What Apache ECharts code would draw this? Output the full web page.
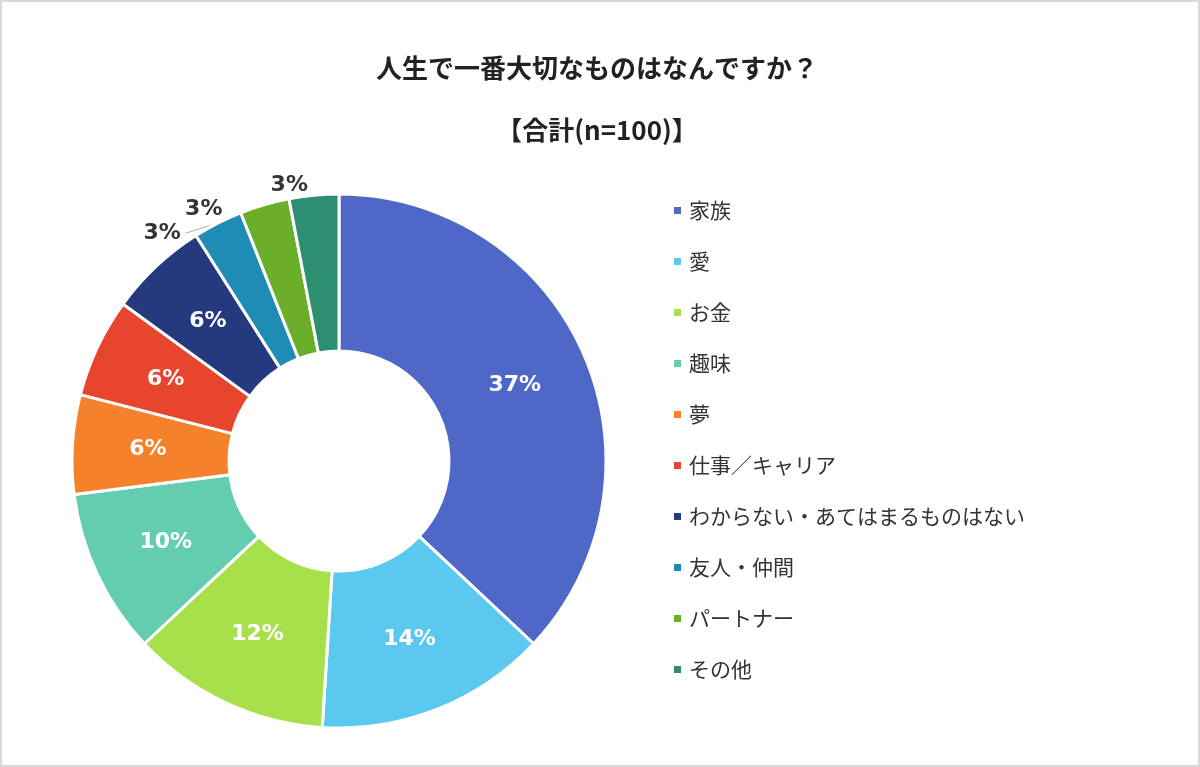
<!DOCTYPE html><html><head><meta charset="utf-8">
<script src="https://cdn.jsdelivr.net/npm/echarts@6/dist/echarts.min.js"></script>
<style>html,body{margin:0;background:#fff}#c{width:1200px;height:767px;box-sizing:border-box;border:2px solid #d9d9d9}</style>
</head><body><div id="c"></div><script>
const categories=['家族','愛','お金','趣味','夢','仕事／キャリア','わからない・あてはまるものはない','友人・仲間','パートナー','その他'];
const values=[37,14,12,10,6,6,6,3,3,3];
const colors=['#4F67C7','#5BC8F0','#A8E04B','#64CDB0','#F5822A','#E8452F','#253A7E','#1E8CB5','#6BAE2A','#2E8E72'];
const chart=echarts.init(document.getElementById('c'));
const data=categories.map((n,i)=>{
  const d={name:n,value:values[i],itemStyle:{color:colors[i]}};
  if(i>=7){d.label={position:'outside',color:'#333',distance:8};d.labelLine={show:i===7,length:10,length2:0,lineStyle:{color:'#aaa'}};}
  return d;});
chart.setOption({
 title:{text:'人生で一番大切なものはなんですか？\n【合計(n=100)】',left:590,top:30,textAlign:'center',
  textStyle:{fontSize:26,fontWeight:'bold',color:'#222',lineHeight:62,fontFamily:'Noto Sans CJK JP'}},
 legend:{orient:'vertical',left:665,top:193,itemGap:30,itemWidth:9,itemHeight:9,icon:'rect',
  textStyle:{fontSize:21,color:'#333',fontFamily:'Noto Sans CJK JP',padding:[0,0,0,2]}},
 series:[{type:'pie',center:[337,459],radius:[110,267],startAngle:90,clockwise:true,
  itemStyle:{borderColor:'#fff',borderWidth:3},
  label:{show:true,position:'inside',formatter:'{c}%',color:'#fff',fontSize:22,fontWeight:'bold',fontFamily:'Verdana, DejaVu Sans'},
  labelLine:{show:false},data:data}]
});
</script></body></html>
